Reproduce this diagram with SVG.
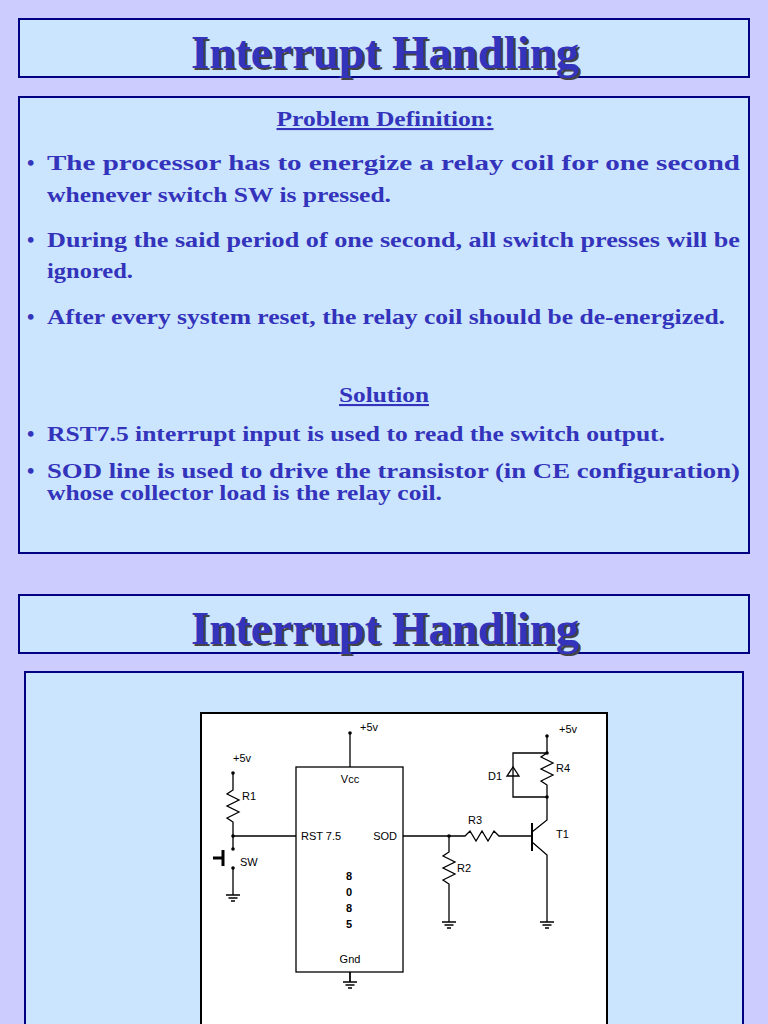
<svg xmlns="http://www.w3.org/2000/svg" width="768" height="1024" viewBox="0 0 768 1024">
<style>
.box{fill:#cce5ff;stroke:#000080;stroke-width:2}
.title{font-family:"Liberation Serif",serif;font-weight:bold;font-size:47px;text-anchor:middle}
.t{font-family:"Liberation Serif",serif;font-weight:bold;font-size:21px;fill:#3333bb}
.w{stroke:#000;stroke-width:1.3;fill:none}
.c{font-family:"Liberation Sans",Arial,sans-serif;font-size:11px;fill:#000}
.d{fill:#000}
</style>
<defs>
<g id="gnd"><path class="w" d="M0,0V10M-7,10H7M-4.5,13H4.5M-2,16H2"/></g>
</defs>
<rect width="768" height="1024" fill="#ccccff"/>
<g id="title1"><rect class="box" x="19" y="19" width="730" height="58"/>
<text class="title" x="387" y="70" fill="#444" textLength="388" lengthAdjust="spacingAndGlyphs">Interrupt Handling</text>
<text class="title" x="385" y="68" fill="#3333bb" textLength="388" lengthAdjust="spacingAndGlyphs">Interrupt Handling</text></g>
<g id="problem"><rect class="box" x="19" y="97" width="730" height="456"/>
<text class="t" x="385" y="126" text-anchor="middle" text-decoration="underline" textLength="217" lengthAdjust="spacingAndGlyphs">Problem Definition:</text>
<text class="t" x="27" y="170">•</text><text class="t" x="47" y="170" textLength="693" lengthAdjust="spacingAndGlyphs">The processor has to energize a relay coil for one second</text>
<text class="t" x="47" y="202" textLength="344" lengthAdjust="spacingAndGlyphs">whenever switch SW is pressed.</text>
<text class="t" x="27" y="247">•</text><text class="t" x="47" y="247" textLength="693" lengthAdjust="spacingAndGlyphs">During the said period of one second, all switch presses will be</text>
<text class="t" x="47" y="278" textLength="86" lengthAdjust="spacingAndGlyphs">ignored.</text>
<text class="t" x="27" y="324">•</text><text class="t" x="47" y="324" textLength="678" lengthAdjust="spacingAndGlyphs">After every system reset, the relay coil should be de-energized.</text>
<text class="t" x="384" y="402" text-anchor="middle" text-decoration="underline" textLength="90" lengthAdjust="spacingAndGlyphs">Solution</text>
<text class="t" x="27" y="441">•</text><text class="t" x="47" y="441" textLength="618" lengthAdjust="spacingAndGlyphs">RST7.5 interrupt input is used to read the switch output.</text>
<text class="t" x="27" y="478">•</text><text class="t" x="47" y="478" textLength="693" lengthAdjust="spacingAndGlyphs">SOD line is used to drive the transistor (in CE configuration)</text>
<text class="t" x="47" y="500" textLength="395" lengthAdjust="spacingAndGlyphs">whose collector load is the relay coil.</text></g>
<g id="title2"><rect class="box" x="19" y="595" width="730" height="58"/>
<text class="title" x="387" y="646" fill="#444" textLength="388" lengthAdjust="spacingAndGlyphs">Interrupt Handling</text>
<text class="title" x="385" y="644" fill="#3333bb" textLength="388" lengthAdjust="spacingAndGlyphs">Interrupt Handling</text></g>
<rect class="box" x="25" y="672" width="718" height="370"/>
<rect x="201" y="713" width="406" height="330" fill="#fff" stroke="#000" stroke-width="2"/>
<g id="chip"><rect class="w" x="296" y="767" width="107" height="205"/>
<text class="c" x="350" y="783" text-anchor="middle">Vcc</text>
<text class="c" x="301" y="840">RST 7.5</text>
<text class="c" x="397" y="840" text-anchor="end">SOD</text>
<text class="c" x="349" y="880" text-anchor="middle" font-weight="bold">8</text>
<text class="c" x="349" y="896" text-anchor="middle" font-weight="bold">0</text>
<text class="c" x="349" y="912" text-anchor="middle" font-weight="bold">8</text>
<text class="c" x="349" y="928" text-anchor="middle" font-weight="bold">5</text>
<text class="c" x="350" y="963" text-anchor="middle">Gnd</text></g>
<g id="connectors">
<path class="w" d="M350,733V767"/><circle class="d" cx="350" cy="733" r="1.8"/><text class="c" x="360" y="731">+5v</text>
<use href="#gnd" x="350" y="972"/><path class="w" d="M350,972V982"/>
<text class="c" x="233" y="762">+5v</text>
<circle class="d" cx="233" cy="773" r="1.8"/>
<path class="w" d="M233,773V790l-6,4 12,6 -12,6 12,6 -12,6 6,4V849M233,836H296"/>
<circle class="d" cx="233" cy="836" r="1.8"/><circle class="d" cx="233" cy="849" r="1.8"/><circle class="d" cx="233" cy="868" r="1.8"/>
<path d="M223,850V866M213,858H223" stroke="#000" stroke-width="3"/>
<text class="c" x="240" y="866">SW</text><text class="c" x="242" y="800">R1</text>
<path class="w" d="M233,868V885"/><use href="#gnd" x="233" y="885"/>
<path class="w" d="M403,836H465l5,-5 6,10 6,-10 6,10 6,-10 5,5H532"/>
<text class="c" x="468" y="824">R3</text>
<circle class="d" cx="449" cy="836" r="1.8"/>
<path class="w" d="M449,836V852l-6,4 12,6 -12,6 12,6 -12,6 6,4V912"/><use href="#gnd" x="449" y="912"/>
<text class="c" x="457" y="872">R2</text>
<path d="M532,823V851" stroke="#000" stroke-width="2"/>
<path class="w" d="M532,832L547,820V797M532,842L547,855V912"/><use href="#gnd" x="547" y="912"/>
<text class="c" x="556" y="838">T1</text>
<circle class="d" cx="547" cy="736" r="1.8"/><text class="c" x="559" y="733">+5v</text>
<path class="w" d="M547,736V753l-6,4 12,6 -12,6 12,6 -12,6 6,4V797H513V753H547"/>
<circle class="d" cx="547" cy="753" r="1.8"/><circle class="d" cx="547" cy="797" r="1.8"/>
<path class="w" d="M507,776H519M513,767L507,776H519Z"/>
<text class="c" x="556" y="772">R4</text><text class="c" x="488" y="780">D1</text>
</g>
</svg>
